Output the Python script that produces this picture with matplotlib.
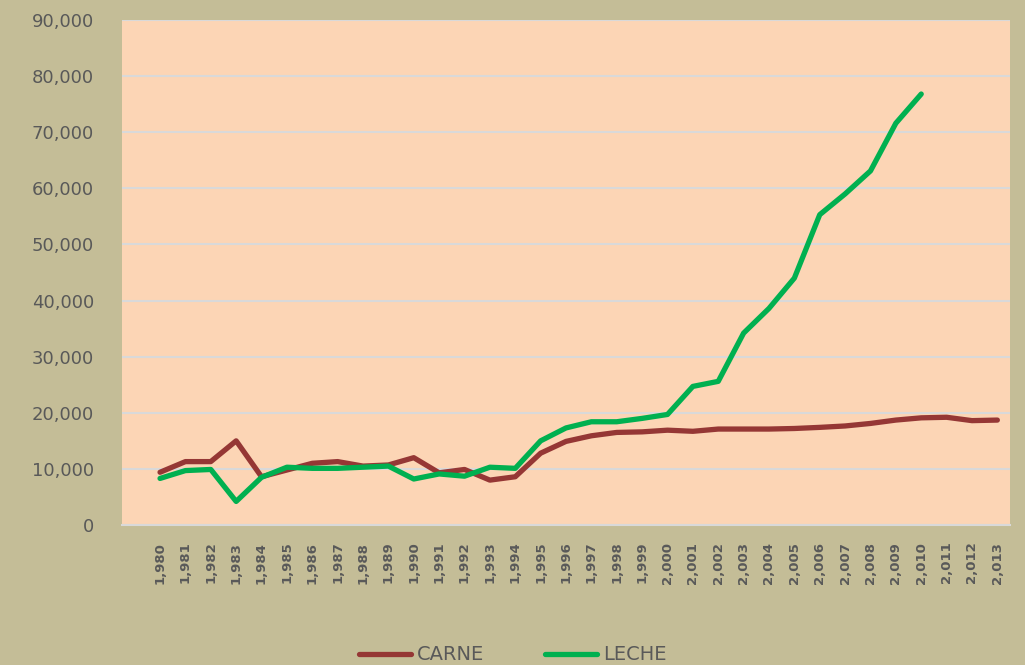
import numpy as np
import matplotlib
matplotlib.use('Agg')
import matplotlib.pyplot as plt
from matplotlib.ticker import FuncFormatter

# datos
years = list(range(1980, 2014))
carne = [9400, 11300, 11300, 15000, 8600, 9800, 11000, 11300, 10500, 10700,
         12000, 9300, 9900, 8000, 8600, 12800, 14900, 15900, 16500, 16600,
         16900, 16700, 17100, 17100, 17100, 17200, 17400, 17650, 18100, 18700,
         19100, 19200, 18600, 18700]
leche_years = list(range(1980, 2011))
leche = [8300, 9700, 9900, 4200, 8500, 10300, 10100, 10100, 10300, 10500,
         8200, 9100, 8700, 10300, 10100, 15000, 17300, 18400, 18400, 19000,
         19700, 24700, 25600, 34200, 38600, 44000, 55300, 59000, 63100, 71600,
         76800]

bg = '#C4BD97'
plot_bg = '#FCD5B5'
txt = '#595959'

fig = plt.figure(figsize=(10.25, 6.65), dpi=100, facecolor=bg)
ax = fig.add_axes([0.119, 0.2105, 0.8664, 0.7595], facecolor=plot_bg)

ax.plot(years, carne, color='#953735', lw=3.8, label='CARNE', solid_capstyle='round')
ax.plot(leche_years, leche, color='#00B050', lw=3.8, label='LECHE', solid_capstyle='round')

ax.set_xlim(1978.5, 2013.5)
ax.set_ylim(0, 90000)
ax.set_yticks(np.arange(0, 90001, 10000))
ax.yaxis.set_major_formatter(FuncFormatter(lambda v, p: f'{int(v):,}'))
ax.set_xticks(years)
ax.set_xticklabels([f'{y:,}' for y in years], rotation=90, fontsize=9.5,
                   fontweight='bold', color=txt)
ax.tick_params(axis='y', labelsize=13, colors=txt, length=0, pad=20)
ax.tick_params(axis='x', length=0, pad=12)
ax.grid(True, axis='y', color='#D9D9D9', lw=1.5)
ax.set_axisbelow(True)
for s in ['top', 'left', 'right']:
    ax.spines[s].set_visible(False)
ax.spines['bottom'].set_color('#D9D9D9')
ax.spines['bottom'].set_linewidth(1.5)

leg = fig.legend(loc='center', bbox_to_anchor=(0.5, 1 - 655 / 665), ncol=2,
                 frameon=False, handlelength=2.7, handletextpad=0.3,
                 columnspacing=3.1,
                 prop={'family': ['Liberation Sans Narrow', 'DejaVu Sans'], 'size': 14})
for t in leg.get_texts():
    t.set_color(txt)

fig.savefig('out.png', dpi=100, facecolor=bg)
